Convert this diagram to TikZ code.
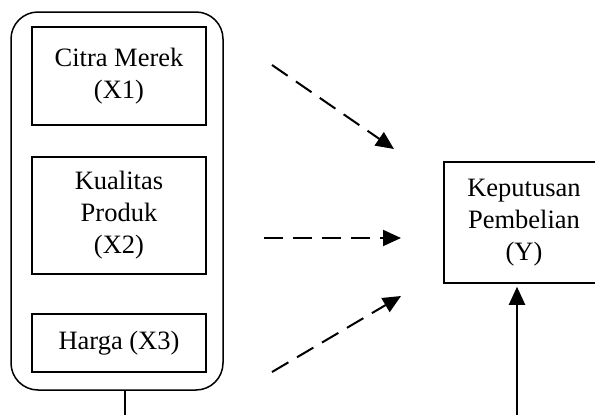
\documentclass[tikz,border=0pt]{standalone}
\usepackage{fontspec}
\setmainfont{Liberation Serif}
\usetikzlibrary{arrows.meta}

\begin{document}
\begin{tikzpicture}
  [x=1pt,y=-1pt,
   every node/.style={draw=black,line width=1.5pt,align=center,inner sep=3pt,
     font=\fontsize{26.5}{32}\selectfont},
   dasharrow/.style={line width=2pt,dash pattern=on 19pt off 10pt,
     -{Triangle[length=18pt,width=16pt]}},
   solidarrow/.style={line width=2pt,-{Triangle[length=18pt,width=16pt]}}]
  \clip (0,0) rectangle (595,415);

  \node[minimum width=212pt,minimum height=378pt,rounded corners=27pt] (grp) at (117,201) {};
  \node[minimum width=174pt,minimum height=98pt] (x1) at (119,76) {Citra Merek\\(X1)};
  \node[minimum width=174pt,minimum height=117pt] (x2) at (119,215.5) {Kualitas\\Produk\\(X2)};
  \node[minimum width=174pt,minimum height=58pt] (x3) at (119,343) {Harga (X3)};
  \node[minimum width=160pt,minimum height=121pt] (y) at (524,222.5) {Keputusan\\Pembelian\\(Y)};

  % ujung panah putus-putus
  \coordinate (a1) at (272,65);   \coordinate (e1) at (394,149);
  \coordinate (a2) at (264,238);  \coordinate (e2) at (401,238);
  \coordinate (a3) at (272,372);  \coordinate (e3) at (401,296);
  \coordinate (b1) at (125,420);
  \coordinate (b2) at (517,420);

  \foreach \from/\to in {a1/e1, a2/e2, a3/e3}
    \draw[dasharrow] (\from) -- (\to);

  \draw[line width=2pt] (grp.south -| b1) -- (b1);
  \draw[solidarrow] (b2) -- ([yshift=-3pt]b2 |- y.south);
\end{tikzpicture}
\end{document}
